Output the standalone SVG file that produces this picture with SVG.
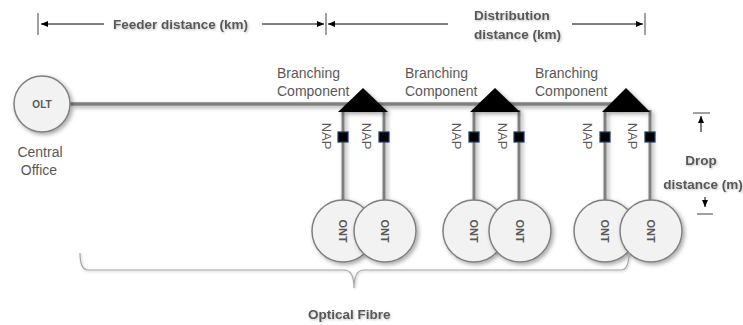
<svg xmlns="http://www.w3.org/2000/svg" width="743" height="325" viewBox="0 0 743 325">
  <defs>
    <filter id="shadow" x="-30%" y="-30%" width="160%" height="160%">
      <feDropShadow dx="2" dy="2" stdDeviation="2" flood-color="#000" flood-opacity="0.35"/>
    </filter>
    <filter id="tshadow" x="-10%" y="-30%" width="120%" height="160%">
      <feDropShadow dx="1" dy="1" stdDeviation="1.2" flood-color="#000" flood-opacity="0.25"/>
    </filter>
    <marker id="arrow" viewBox="0 0 7 6" refX="7" refY="3" markerWidth="7" markerHeight="6" markerUnits="userSpaceOnUse" orient="auto">
      <path d="M0,0 L7,3 L0,6 z" fill="#000"/>
    </marker>
  </defs>
  <style>
    .lbl { font-family: "Liberation Sans", Arial, sans-serif; font-size: 14px; fill: #595959; }
    .dim { font-family: "Liberation Sans", Arial, sans-serif; font-size: 13.5px; font-weight: bold; fill: #595959; }
    .node { fill: #f2f2f2; stroke: #808080; stroke-width: 1.5; }
    .ntxt { font-family: "Liberation Sans", Arial, sans-serif; font-weight: bold; fill: #595959; text-anchor: middle; }
    .nap { fill: #000; stroke: #1f3864; stroke-width: 1.2; }
    .naptxt { font-family: "Liberation Sans", Arial, sans-serif; font-size: 13px; fill: #595959; text-anchor: middle; }
    .fibre { stroke: #808080; fill: none; }
    .tick { stroke: #808080; stroke-width: 1.5; }
    .dline { stroke: #000; stroke-width: 1; marker-end: url(#arrow); }
    .splitter { fill: #000; }
  </style>

  <!-- dimension lines -->
  <g id="dimensions">
    <line class="tick" x1="38" y1="13" x2="38" y2="35"/>
    <line class="tick" x1="326" y1="13" x2="326" y2="35"/>
    <line class="tick" x1="645" y1="13" x2="645" y2="35"/>
    <line class="dline" x1="104" y1="24" x2="41" y2="24"/>
    <line class="dline" x1="262" y1="24" x2="324" y2="24"/>
    <line class="dline" x1="448" y1="24" x2="328" y2="24"/>
    <line class="dline" x1="572" y1="24" x2="643" y2="24"/>
    <g filter="url(#tshadow)">
      <text class="dim" x="113" y="29">Feeder distance (km)</text>
      <text class="dim" x="474" y="20">Distribution</text>
      <text class="dim" x="474" y="39">distance (km)</text>
    </g>

    <line class="tick" x1="693" y1="113" x2="710" y2="113"/>
    <line class="dline" x1="701" y1="132" x2="701" y2="116"/>
    <line class="dline" x1="705" y1="197" x2="705" y2="207"/>
    <line class="tick" x1="697" y1="214" x2="713" y2="214"/>
    <g filter="url(#tshadow)">
      <text class="dim" x="701" y="165" text-anchor="middle">Drop</text>
      <text class="dim" x="703" y="189" text-anchor="middle">distance (m)</text>
    </g>
  </g>

  <!-- fibre connectors -->
  <g id="connectors" filter="url(#shadow)">
    <line class="fibre" stroke-width="3.5" x1="70" y1="104" x2="626" y2="104"/>
    <line class="fibre" stroke-width="3" x1="343" y1="110" x2="343" y2="201"/>
    <line class="fibre" stroke-width="3" x1="384" y1="110" x2="384" y2="201"/>
    <line class="fibre" stroke-width="3" x1="474" y1="110" x2="474" y2="201"/>
    <line class="fibre" stroke-width="3" x1="519" y1="110" x2="519" y2="201"/>
    <line class="fibre" stroke-width="3" x1="605" y1="110" x2="605" y2="201"/>
    <line class="fibre" stroke-width="3" x1="650" y1="110" x2="650" y2="201"/>
  </g>

  <!-- central office -->
  <g id="olt">
    <circle class="node" cx="42" cy="104" r="28" filter="url(#shadow)"/>
    <text class="ntxt" x="42" y="108" font-size="10">OLT</text>
    <text class="lbl" x="40" y="157" text-anchor="middle">Central</text>
    <text class="lbl" x="39" y="175" text-anchor="middle">Office</text>
  </g>

  <!-- branching components -->
  <g id="branch1">
    <polygon class="splitter" points="363,88 338,112 388,112" filter="url(#shadow)"/>
    <text class="lbl" x="277" y="78">Branching</text>
    <text class="lbl" x="277" y="96">Component</text>
  </g>
  <g id="branch2">
    <polygon class="splitter" points="495,88 470,112 520,112" filter="url(#shadow)"/>
    <text class="lbl" x="405" y="78">Branching</text>
    <text class="lbl" x="405" y="96">Component</text>
  </g>
  <g id="branch3">
    <polygon class="splitter" points="626,88 602,112 650,112" filter="url(#shadow)"/>
    <text class="lbl" x="535" y="78">Branching</text>
    <text class="lbl" x="535" y="96">Component</text>
  </g>

  <!-- network access points -->
  <g id="nap1">
    <rect class="nap" x="338" y="132" width="10" height="10"/>
    <text class="naptxt" transform="translate(322,136) rotate(90)">NAP</text>
  </g>
  <g id="nap2">
    <rect class="nap" x="379" y="132" width="10" height="10"/>
    <text class="naptxt" transform="translate(362,136) rotate(90)">NAP</text>
  </g>
  <g id="nap3">
    <rect class="nap" x="469" y="132" width="10" height="10"/>
    <text class="naptxt" transform="translate(452,136) rotate(90)">NAP</text>
  </g>
  <g id="nap4">
    <rect class="nap" x="514" y="132" width="10" height="10"/>
    <text class="naptxt" transform="translate(498,136) rotate(90)">NAP</text>
  </g>
  <g id="nap5">
    <rect class="nap" x="600" y="132" width="10" height="10"/>
    <text class="naptxt" transform="translate(583,136) rotate(90)">NAP</text>
  </g>
  <g id="nap6">
    <rect class="nap" x="645" y="132" width="10" height="10"/>
    <text class="naptxt" transform="translate(628,136) rotate(90)">NAP</text>
  </g>

  <!-- optical network terminals -->
  <g id="ont1">
    <circle class="node" cx="343" cy="231" r="31" filter="url(#shadow)"/>
    <text class="ntxt" font-size="11" transform="translate(339,231) rotate(90)">ONT</text>
  </g>
  <g id="ont2">
    <circle class="node" cx="385" cy="231" r="31" filter="url(#shadow)"/>
    <text class="ntxt" font-size="11" transform="translate(381,231) rotate(90)">ONT</text>
  </g>
  <g id="ont3">
    <circle class="node" cx="474" cy="231" r="31" filter="url(#shadow)"/>
    <text class="ntxt" font-size="11" transform="translate(470,231) rotate(90)">ONT</text>
  </g>
  <g id="ont4">
    <circle class="node" cx="520" cy="231" r="31" filter="url(#shadow)"/>
    <text class="ntxt" font-size="11" transform="translate(516,231) rotate(90)">ONT</text>
  </g>
  <g id="ont5">
    <circle class="node" cx="605" cy="231" r="31" filter="url(#shadow)"/>
    <text class="ntxt" font-size="11" transform="translate(601,231) rotate(90)">ONT</text>
  </g>
  <g id="ont6">
    <circle class="node" cx="651" cy="231" r="31" filter="url(#shadow)"/>
    <text class="ntxt" font-size="11" transform="translate(647,231) rotate(90)">ONT</text>
  </g>

  <!-- optical fibre brace -->
  <g id="fibre-brace">
    <path d="M80,253 Q80,270 88,270 L344,270 Q354,270 354,288 Q354,270 364,270 L621,270 Q629,270 629,252" fill="none" stroke="#a6a6a6" stroke-width="1.2" filter="url(#tshadow)"/>
    <text class="dim" x="308" y="319" filter="url(#tshadow)">Optical Fibre</text>
  </g>
</svg>
